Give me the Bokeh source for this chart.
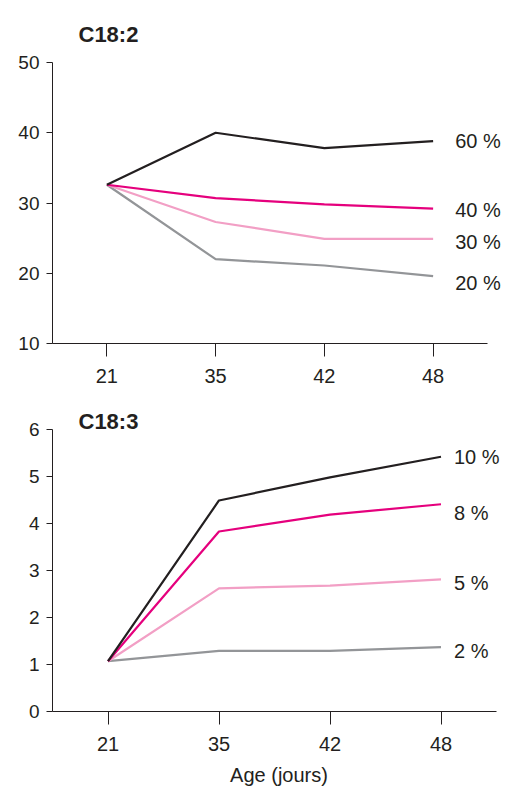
from bokeh.plotting import figure
from bokeh.models import Range1d, FixedTicker, ColumnDataSource, LabelSet
from bokeh.core.properties import value
from bokeh.layouts import column
from bokeh.embed import file_html
from bokeh.resources import INLINE

ages = ["21", "35", "42", "48"]

c182_labels = ["20 %", "30 %", "40 %", "60 %"]
c182_20 = [32.6, 22.0, 21.1, 19.6]
c182_30 = [32.6, 27.3, 24.9, 24.9]
c182_40 = [32.6, 30.7, 29.8, 29.2]
c182_60 = [32.6, 40.0, 37.8, 38.8]

c183_labels = ["2 %", "5 %", "8 %", "10 %"]
c183_2 = [1.07, 1.29, 1.29, 1.37]
c183_5 = [1.07, 2.62, 2.68, 2.81]
c183_8 = [1.07, 3.83, 4.19, 4.41]
c183_10 = [1.07, 4.49, 4.98, 5.42]

y1_ticks = [10, 20, 30, 40, 50]
y2_ticks = [0, 1, 2, 3, 4, 5, 6]

# label nudges in screen pixels (style only)
c182_dy = [-7, -3, -1, 0]
c183_dy = [-4, -4, -9, 0]

colors = ["#939598", "#f29fc5", "#e5007d", "#231f20"]
TXT = "#231f20"
FONT = "Liberation Sans"
W = 505
LEFT = 52


def make_panel(title, series, labels, dys, yr, yticks, height, border_top, border_bottom,
               axis_px, title_standoff, label_dx, xlabel=None):
    xs = list(range(len(ages)))
    n = len(ages)
    frame_w = W - LEFT
    x_end = -0.5 + n * frame_w / axis_px
    p = figure(x_range=Range1d(-0.5, x_end), y_range=Range1d(*yr),
               width=W, height=height, output_backend="svg", toolbar_location=None,
               min_border_left=LEFT, min_border_right=0,
               min_border_top=border_top, min_border_bottom=border_bottom)
    p.outline_line_color = None
    p.xgrid.visible = False
    p.ygrid.visible = False
    p.title.text = title
    p.title.text_font = FONT
    p.title.text_font_size = "22px"
    p.title.text_font_style = "bold"
    p.title.text_color = TXT
    p.title.offset = 26
    p.title.standoff = title_standoff

    for vals, c in zip(series, colors):
        p.line(xs, vals, line_color=c, line_width=2.2)

    src = ColumnDataSource(dict(x=[xs[-1]] * len(labels),
                                y=[s[-1] for s in series], text=labels, dy=dys))
    p.add_layout(LabelSet(x="x", y="y", text="text", source=src, x_offset=label_dx,
                          y_offset="dy",
                          text_font=value(FONT), text_font_size=value("20px"),
                          text_color=TXT, text_baseline="middle", text_align="left"))

    for ax in (p.xaxis[0], p.yaxis[0]):
        ax.axis_line_color = TXT
        ax.axis_line_width = 1
        ax.major_tick_line_color = TXT
        ax.major_tick_in = 0
        ax.minor_tick_line_color = None
        ax.major_label_text_font = FONT
        ax.major_label_text_color = TXT
    p.xaxis[0].bounds = (-0.5, n - 0.5)
    p.xaxis[0].ticker = FixedTicker(ticks=xs)
    p.xaxis[0].major_label_overrides = {i: a for i, a in enumerate(ages)}
    p.yaxis[0].ticker = FixedTicker(ticks=yticks)
    p.yaxis[0].major_tick_out = 6
    p.yaxis[0].major_label_standoff = 7
    p.yaxis[0].major_label_text_font_size = "19px"
    p.xaxis[0].major_tick_out = 13
    p.xaxis[0].major_label_standoff = 12
    p.xaxis[0].major_label_text_font_size = "20px"
    if xlabel:
        p.xaxis[0].axis_label = xlabel
        p.xaxis[0].axis_label_text_font = FONT
        p.xaxis[0].axis_label_text_font_size = "20px"
        p.xaxis[0].axis_label_text_font_style = "normal"
        p.xaxis[0].axis_label_text_color = TXT
        p.xaxis[0].axis_label_standoff = 10
    return p


p1 = make_panel("C18:2", [c182_20, c182_30, c182_40, c182_60], c182_labels, c182_dy,
                (10, 50), y1_ticks, 395, 62, 52, 435, 32, 22)
p2 = make_panel("C18:3", [c183_2, c183_5, c183_8, c183_10], c183_labels, c183_dy,
                (0, 6), y2_ticks, 396, 34, 80, 444, -9, 13, xlabel="Age (jours)")

layout = column(p1, p2, spacing=0)
open("out.html", "w").write(file_html(layout, INLINE))
